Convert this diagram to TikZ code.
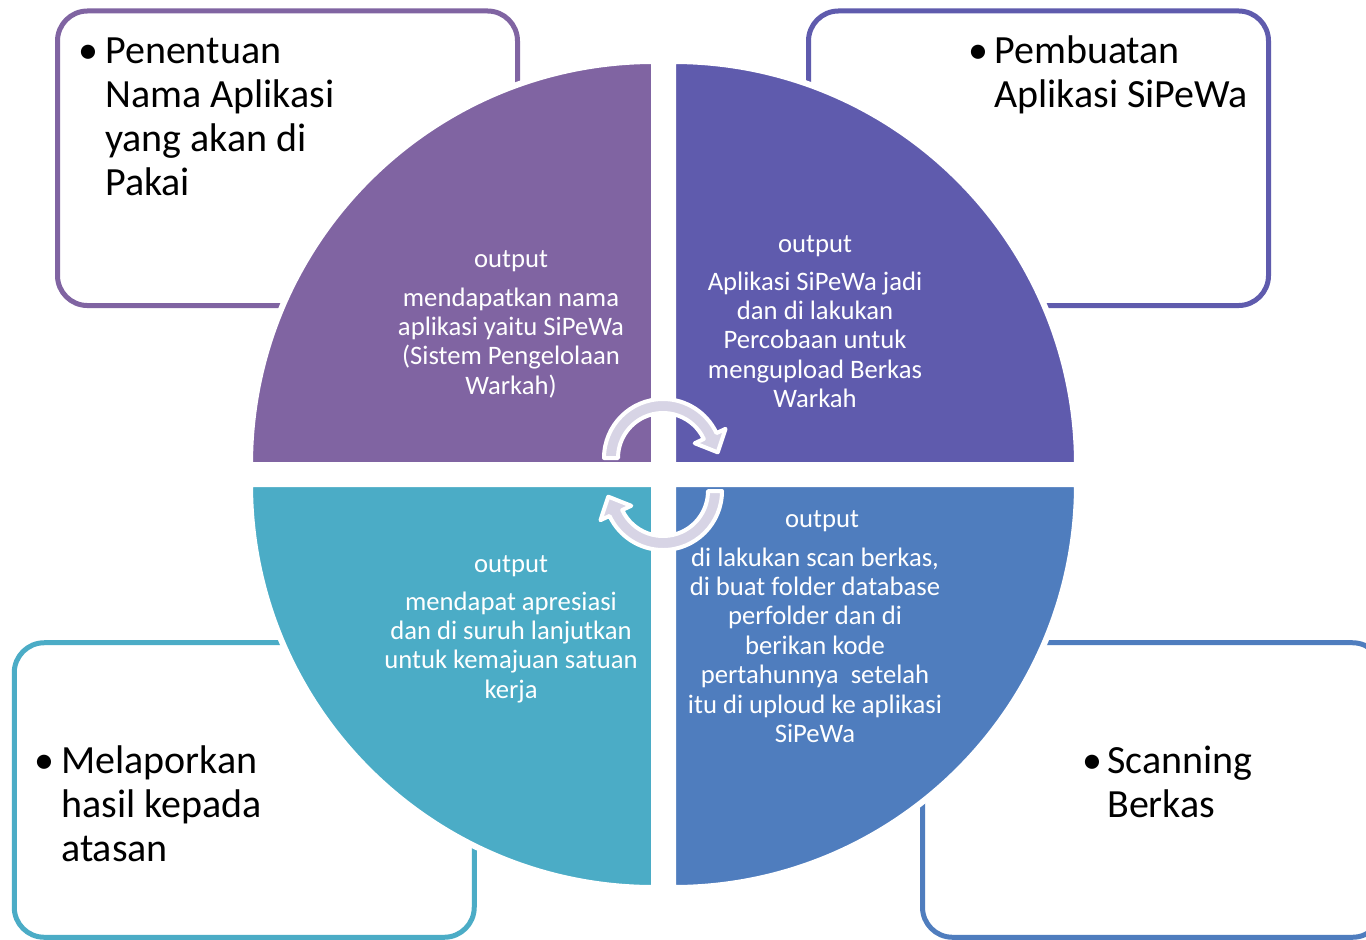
\documentclass[tikz,border=0pt]{standalone}
\usepackage{fontspec}
\setmainfont{Carlito}
\usetikzlibrary{calc}
\definecolor{qa}{HTML}{8064A2}
\definecolor{qb}{HTML}{5F5BAD}
\definecolor{qc}{HTML}{4F7DBE}
\definecolor{qd}{HTML}{4BACC6}
\definecolor{arr}{HTML}{D7D4E5}
\begin{document}
\begin{tikzpicture}[x=0.75pt,y=-0.75pt,
  boxstyle/.style={draw, line width=3.75pt, rounded corners=22.5pt, fill=white,
    minimum width=345pt, minimum height=220.9pt, inner sep=0pt},
  quad/.style={draw=white, line width=4.5pt},
  arrowshape/.style={fill=arr, draw=white, line width=3pt, line join=round},
  boxtext/.style={font=\fontsize{30pt}{33pt}\selectfont, text=black, inner sep=0pt, align=left, anchor=base west},
  bul/.style={font=\fontsize{30pt}{33pt}\selectfont, text=black, inner sep=0pt, anchor=base},
  intext/.style={font=\fontsize{20pt}{22.1pt}\selectfont, text=white, inner sep=0pt, align=center, anchor=base}]
\useasboundingbox (0,0) rectangle (1366,939);
\fill[white] (0,0) rectangle (1366,939);
% boxes
\node[boxstyle, draw=qa] (boxa) at (287.5,158.25) {};
\node[boxstyle, draw=qb] (boxb) at (1038.5,158.25) {};
\node[boxstyle, draw=qd] (boxd) at (244.25,790) {};
\node[boxstyle, draw=qc] (boxc) at (1152.5,790) {};
% quadrants
\path[quad, fill=qa] (654,465) -- ++(-404,0) arc[start angle=180, end angle=270, radius=404] -- cycle;
\path[quad, fill=qb] (673,465) -- ++(0,-404) arc[start angle=270, end angle=360, radius=404] -- cycle;
\path[quad, fill=qc] (673,484) -- ++(404,0) arc[start angle=0, end angle=90, radius=404] -- cycle;
\path[quad, fill=qd] (654,484) -- ++(0,404) arc[start angle=90, end angle=180, radius=404] -- cycle;
% circular arrows
\coordinate (ca) at (663,458);
\coordinate (cb) at (663,491);
\path[arrowshape] ($(ca)+(-180:59)$) arc[start angle=-180, end angle=-25, radius=59]
  -- ($(ca)+(-25:69)$) -- ($(ca)+(-25:52)+(65:18)$) -- ($(ca)+(-25:35)$)
  -- ($(ca)+(-25:45)$) arc[start angle=-25, end angle=-180, radius=45] -- cycle;
\path[arrowshape] ($(cb)+(0:59)$) arc[start angle=0, end angle=155, radius=59]
  -- ($(cb)+(155:69)$) -- ($(cb)+(155:52)+(245:18)$) -- ($(cb)+(155:35)$)
  -- ($(cb)+(155:45)$) arc[start angle=155, end angle=0, radius=45] -- cycle;
% box texts (anchor = baseline of last line)
\node[bul] (bula) at (88,63) {•};
\node[boxtext] (ta) at (105,195) {Penentuan\\Nama Aplikasi\\yang akan di\\Pakai};
\node[bul] (bulb) at (978,63) {•};
\node[boxtext] (tb) at (994,107) {Pembuatan\\Aplikasi SiPeWa};
\node[bul] (buld) at (44,773) {•};
\node[boxtext] (td) at (61,861) {Melaporkan\\hasil kepada\\atasan};
\node[bul] (bulc) at (1092,773) {•};
\node[boxtext] (tc) at (1107,817) {Scanning\\Berkas};
% inner texts (anchor = baseline of last line)
\node[intext] (oa) at (511,267) {output};
\node[intext] (ia) at (511,394.4) {mendapatkan nama\\aplikasi yaitu SiPeWa\\(Sistem Pengelolaan\\Warkah)};
\node[intext] (ob) at (815,252) {output};
\node[intext] (ib) at (815,407.9) {Aplikasi SiPeWa jadi\\dan di lakukan\\Percobaan untuk\\mengupload Berkas\\Warkah};
\node[intext] (oc) at (822,527) {output};
\node[intext] (ic) at (815,742.8) {di lakukan scan berkas,\\di buat folder database\\perfolder dan di\\berikan kode\\pertahunnya\ \ setelah\\itu di uploud ke aplikasi\\SiPeWa};
\node[intext] (od) at (511,572) {output};
\node[intext] (id) at (511,698.4) {mendapat apresiasi\\dan di suruh lanjutkan\\untuk kemajuan satuan\\kerja};
\end{tikzpicture}
\end{document}
